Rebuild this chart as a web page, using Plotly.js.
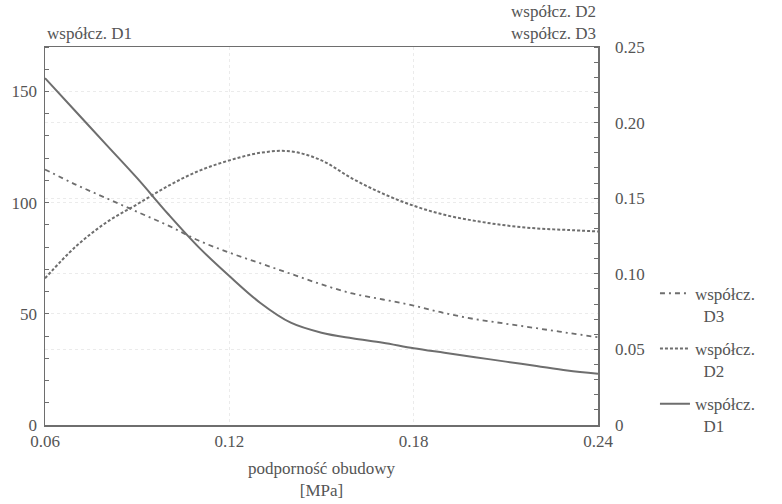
<!DOCTYPE html>
<html>
<head>
<meta charset="utf-8">
<script src="https://cdn.plot.ly/plotly-3.0.1.min.js"></script>
<style>
html,body{margin:0;padding:0;background:#fff;}
#chart{width:782px;height:504px;}
#chart svg text{font-family:'Liberation Serif', serif !important;}
</style>
</head>
<body>
<div id="chart"></div>
<script>
const support = [0.06,0.07,0.08,0.09,0.10,0.11,0.12,0.13,0.14,0.15,0.16,0.17,0.18,0.19,0.20,0.21,0.22,0.23,0.24];
const coefD1 = [156,141,126,111,95,80,67,55,46,41.5,39,37,34.5,32.5,30.5,28.5,26.5,24.5,23];
const coefD2 = [0.097,0.118,0.134,0.146,0.158,0.168,0.175,0.180,0.181,0.175,0.163,0.153,0.145,0.139,0.135,0.132,0.130,0.129,0.128];
const coefD3 = [0.169,0.159,0.150,0.141,0.132,0.122,0.114,0.107,0.100,0.093,0.087,0.083,0.079,0.074,0.070,0.067,0.064,0.061,0.058];
const xTicks = [0.06,0.12,0.18,0.24];
const xTickText = ['0.06','0.12','0.18','0.24'];
const y1Ticks = [0,50,100,150];
const y2Ticks = [0,0.05,0.10,0.15,0.20,0.25];
const y2TickText = ['0','0.05','0.10','0.15','0.20','0.25'];

const lineCol = '#6e6e6e';
const txtCol = '#555555';
const fontFam = 'Liberation Serif';
const fs = 17;

const traces = [
  {x: support, y: coefD3, name: 'współcz.<br>\u00a0\u00a0D3', legendgroup: 'g3', yaxis: 'y2', mode: 'lines', line: {color: lineCol, width: 1.8, dash: '5px,4px,2px,4px', shape: 'spline'}},
  {x: support, y: coefD2, name: 'współcz.<br>\u00a0\u00a0D2', legendgroup: 'g2', yaxis: 'y2', mode: 'lines', line: {color: lineCol, width: 2, dash: '3px,2px', shape: 'spline'}},
  {x: support, y: coefD1, name: 'współcz.<br>\u00a0\u00a0D1', legendgroup: 'g1', yaxis: 'y', mode: 'lines', line: {color: lineCol, width: 2, shape: 'spline'}}
];

const layout = {
  width: 782, height: 504,
  margin: {l: 45, r: 184, t: 47, b: 79},
  paper_bgcolor: '#ffffff', plot_bgcolor: '#ffffff',
  font: {family: fontFam, size: fs, color: txtCol},
  showlegend: true,
  legend: {x: 1.103, xanchor: 'left', y: 0.395, yanchor: 'top', traceorder: 'grouped', tracegroupgap: 8, valign: 'top', font: {family: fontFam, size: fs, color: txtCol}, bgcolor: 'rgba(0,0,0,0)'},
  xaxis: {
    range: [0.06, 0.24], tickvals: xTicks, ticktext: xTickText,
    showline: true, linecolor: lineCol, linewidth: 1.5, mirror: true,
    showgrid: true, gridcolor: '#ebebeb', griddash: 'dot', zeroline: false,
    ticks: '', ticklen: 0,
    title: {text: 'podporność obudowy<br>[MPa]', standoff: 12, font: {family: fontFam, size: fs, color: txtCol}}
  },
  yaxis: {
    range: [0, 170], tickvals: y1Ticks,
    showline: true, linecolor: lineCol, linewidth: 1.5,
    showgrid: true, gridcolor: '#ebebeb', griddash: 'dot', zeroline: false,
    ticks: '', ticklabelstandoff: 3,
    minor: {dtick: 10, tick0: 0, ticks: 'inside', ticklen: 4, tickcolor: lineCol, showgrid: false}
  },
  yaxis2: {
    range: [0, 0.25], tickvals: y2Ticks, ticktext: y2TickText,
    overlaying: 'y', side: 'right',
    showline: true, linecolor: lineCol, linewidth: 1.5,
    showgrid: true, gridcolor: '#ebebeb', griddash: 'dot', zeroline: false,
    ticks: '', ticklabelstandoff: 12,
    minor: {dtick: 0.01, tick0: 0, ticks: 'inside', ticklen: 4, tickcolor: lineCol, showgrid: false}
  },
  annotations: [
    {text: 'współcz. D1', xref: 'paper', yref: 'paper', x: 0, y: 1, xanchor: 'left', yanchor: 'bottom', yshift: 2, showarrow: false, font: {family: fontFam, size: fs, color: txtCol}},
    {text: 'współcz. D2<br>współcz. D3', xref: 'paper', yref: 'paper', x: 1, y: 1, xanchor: 'right', yanchor: 'bottom', yshift: 2, showarrow: false, align: 'right', font: {family: fontFam, size: fs, color: txtCol}}
  ]
};

Plotly.newPlot('chart', traces, layout, {displayModeBar: false, staticPlot: true});
</script>
</body>
</html>
